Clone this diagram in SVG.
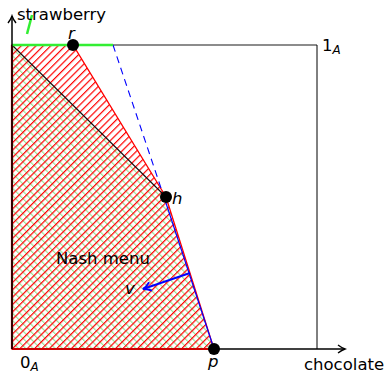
<svg xmlns="http://www.w3.org/2000/svg" width="388" height="373" viewBox="0 0 388 373">
<defs>
<style>
text{font-family:"DejaVu Sans",sans-serif;font-size:16.5px;fill:#000}
.it{font-style:italic}
</style>
<pattern id="ne" width="5.2" height="5.2" patternUnits="userSpaceOnUse" patternTransform="rotate(45)">
<line x1="0.6" y1="-1" x2="0.6" y2="7" stroke="#f00" stroke-width="1.2"/>
</pattern>
<pattern id="nw" width="5.2" height="5.2" patternUnits="userSpaceOnUse" patternTransform="rotate(-45)">
<line x1="0.6" y1="-1" x2="0.6" y2="7" stroke="#8fe48f" stroke-width="1.1"/>
</pattern>
<marker id="ah" markerWidth="10" markerHeight="10" refX="8" refY="5" orient="auto" markerUnits="userSpaceOnUse">
<path d="M1,1 Q5,4 8,5 Q5,6 1,9" fill="none" stroke="#000" stroke-width="1.4"/>
</marker>
<marker id="bh" markerWidth="12" markerHeight="12" refX="9" refY="6" orient="auto" markerUnits="userSpaceOnUse">
<path d="M1,1.5 Q5,5 9,6 Q5,7 1,10.5" fill="none" stroke="#00f" stroke-width="2"/>
</marker>
</defs>
<rect width="388" height="373" fill="#fff"/>
<g id="menu">
<polygon points="12,45 166,197 214,349 12,349" fill="url(#nw)"/>
<polygon points="12,349 12,45 73,45 166,197 214,349" fill="url(#ne)" stroke="#f00" stroke-width="1.3"/>
<line x1="12" y1="45" x2="12" y2="349" stroke="#c00" stroke-width="2.2"/>
<line x1="12" y1="349" x2="214" y2="349" stroke="#c00" stroke-width="2.2"/>
</g>
<g id="connectors">
<line x1="113" y1="45" x2="317" y2="45" stroke="#666" stroke-width="1.5"/>
<line x1="317" y1="45" x2="317" y2="349" stroke="#000" stroke-width="1"/>
<line x1="12" y1="45" x2="166" y2="197" stroke="#111" stroke-width="1.1"/>
<line x1="113" y1="45" x2="164" y2="197" stroke="#00f" stroke-width="1.1" stroke-dasharray="7,5"/>
<line x1="164" y1="197" x2="214" y2="349" stroke="#00f" stroke-width="1.2"/>
<line x1="12" y1="45" x2="113" y2="45" stroke="#3e3" stroke-width="2.5"/>
<line x1="27" y1="34" x2="32" y2="15" stroke="#3e3" stroke-width="2.5"/>
<line x1="12" y1="349" x2="12" y2="16" stroke="#000" stroke-width="1.5" marker-end="url(#ah)"/>
<line x1="214" y1="349" x2="345" y2="349" stroke="#000" stroke-width="1.5" marker-end="url(#ah)"/>
<line x1="190" y1="273" x2="143" y2="289" stroke="#00f" stroke-width="2" marker-end="url(#bh)"/>
</g>
<g id="r"><circle cx="73" cy="45" r="6"/><text class="it" x="68" y="39">r</text></g>
<g id="h"><circle cx="166" cy="197" r="6"/><text class="it" x="172" y="204">h</text></g>
<g id="p"><circle cx="214" cy="349" r="6"/><text class="it" x="208" y="367">p</text></g>
<g id="labels">
<text x="17" y="20">strawberry</text>
<text x="304" y="370">chocolate</text>
<text x="20" y="368">0<tspan class="it" font-size="12" dy="3">A</tspan></text>
<text x="322" y="51">1<tspan class="it" font-size="12" dy="3">A</tspan></text>
<text x="56" y="264" fill="#333">Nash menu</text>
<text class="it" x="125" y="294">v</text>
</g>
</svg>
